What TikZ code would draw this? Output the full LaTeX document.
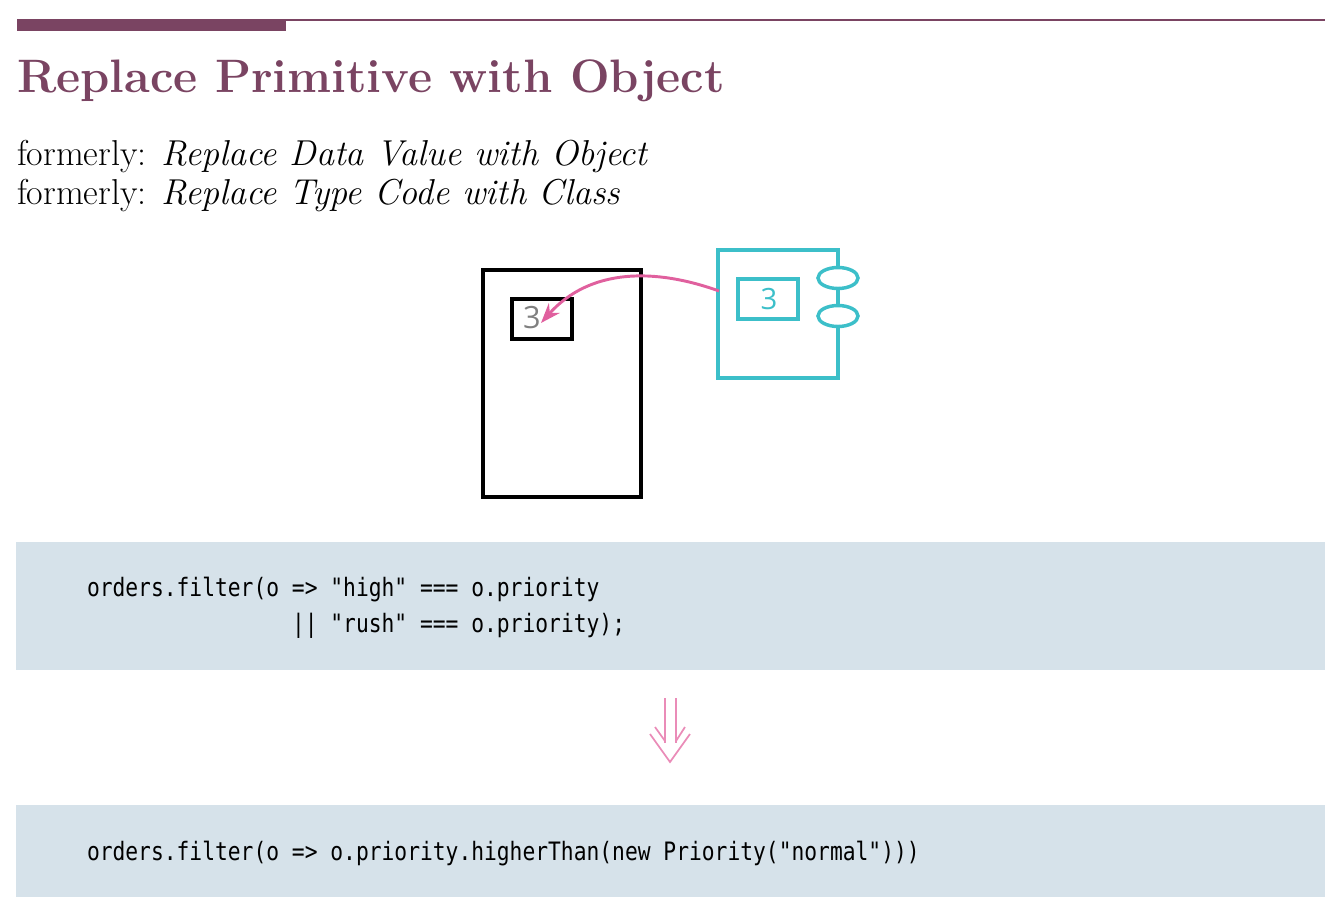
\documentclass[tikz,border=0pt]{standalone}
\usepackage{fontspec}
\newfontfamily\codefont[FakeStretch=0.84]{DejaVu Sans Mono}
\newfontfamily\digitfont{Open Sans}
\usetikzlibrary{arrows.meta}
\definecolor{plum}{HTML}{7A4462}
\definecolor{codebg}{HTML}{D6E2EA}
\definecolor{tealc}{HTML}{3CBFC9}
\definecolor{pinkc}{HTML}{E0609E}
\definecolor{pinkl}{HTML}{EA8CB8}
\tikzset{
  txt/.style={anchor=base west, inner sep=0pt, outer sep=0pt},
  code/.style={txt, font=\codefont\fontsize{19}{22}\selectfont},
  codebox/.style={fill=codebg, draw=none},
  oldbox/.style={draw=black, line width=3.4pt},
  tealline/.style={draw=tealc, line width=2.6pt},
}
\begin{document}
\begin{tikzpicture}[x=0.75pt,y=-0.75pt]
\useasboundingbox (0,0) rectangle (1340,910);
% header rules
\draw[plum, line width=1.2pt] (17,20) -- (1325,20);
\fill[plum] (17,20) rectangle (286,31);
\node[txt, text=plum, font=\fontsize{35.2}{40}\selectfont\bfseries] (title) at (17,92) {Replace Primitive with Object};
\node[txt, font=\fontsize{27}{30}\selectfont] (f1) at (17,165) {formerly: \textit{Replace Data Value with Object}};
\node[txt, font=\fontsize{27}{30}\selectfont] (f2) at (17,204) {formerly: \textit{Replace Type Code with Class}};
% diagram: old container
\draw[oldbox] (483,270) rectangle (641,497);
\node[draw=black, line width=2.6pt, minimum width=60*0.75pt, minimum height=40*0.75pt, inner sep=0pt] (oldval) at (542,319) {};
\node[text=gray, font=\digitfont\fontsize{23}{24}\selectfont, inner sep=0pt] (olddigit) at (532,318) {3};
% teal object
\draw[tealline] (838,267) -- (838,250) -- (718,250) -- (718,378) -- (838,378) -- (838,327);
\draw[tealline] (838,288) -- (838,305);
\draw[tealline] (838,278) ellipse (20 and 10.5);
\draw[tealline] (838,316) ellipse (20 and 10.5);
\node[draw=tealc, line width=2.6pt, minimum width=60*0.75pt, minimum height=40*0.75pt, inner sep=0pt] (newval) at (768,299) {};
\node[text=tealc, font=\digitfont\fontsize{22}{24}\selectfont, inner sep=0pt] (newdigit) at (769,299) {3};
\coordinate (src) at (719,291);
\coordinate (dst) at (541,323);
\draw[pinkc, line width=2.2pt, -{Stealth[length=15pt,width=11pt,inset=5pt]}] (src) .. controls (655,268) and (590,268) .. (dst);
% code boxes
\fill[codebox] (16,542) rectangle (1325,670);
\node[code] (c1) at (87,596) {orders.filter(o => "high" === o.priority};
\node[code] (c2) at (292,632) {|| "rush" === o.priority);};
\coordinate (a1) at (665,698);
\coordinate (a2) at (676,698);
\draw[pinkl, line width=1.3pt] (a1) -- (665,743) (a2) -- (676,743);
\draw[pinkl, line width=1.3pt] (650,734) -- (670,762) -- (690,734);
\draw[pinkl, line width=1.3pt] (655,727) -- (665,741) (685,727) -- (676,741);
\fill[codebox] (16,805) rectangle (1325,897);
\node[code] (c3) at (87,860) {orders.filter(o => o.priority.higherThan(new Priority("normal")))};
\end{tikzpicture}
\end{document}
